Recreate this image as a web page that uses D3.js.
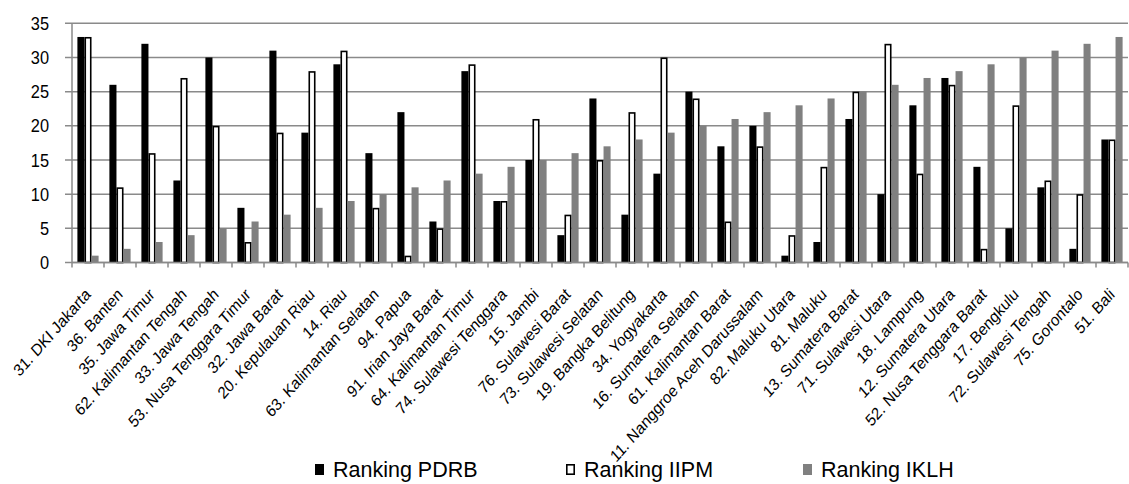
<!DOCTYPE html>
<html>
<head>
<meta charset="utf-8">
<script src="https://cdn.jsdelivr.net/npm/d3@7"></script>
<style>
  html, body { margin: 0; padding: 0; background: #fff; }
  svg { display: block; font-family: "Liberation Sans", Arial, sans-serif; }
</style>
</head>
<body>
<svg id="chart" width="1129" height="484"></svg>
<script>
// Provinces, ordered by environmental quality (IKLH) ranking
const provinces = [
  "31. DKI Jakarta", "36. Banten", "35. Jawa Timur", "62. Kalimantan Tengah",
  "33. Jawa Tengah", "53. Nusa Tenggara Timur", "32. Jawa Barat", "20. Kepulauan Riau",
  "14. Riau", "63. Kalimantan Selatan", "94. Papua", "91. Irian Jaya Barat",
  "64. Kalimantan Timur", "74. Sulawesi Tenggara", "15. Jambi", "76. Sulawesi Barat",
  "73. Sulawesi Selatan", "19. Bangka Belitung", "34. Yogyakarta", "16. Sumatera Selatan",
  "61. Kalimantan Barat", "11. Nanggroe Aceh Darussalam", "82. Maluku Utara", "81. Maluku",
  "13. Sumatera Barat", "71. Sulawesi Utara", "18. Lampung", "12. Sumatera Utara",
  "52. Nusa Tenggara Barat", "17. Bengkulu", "72. Sulawesi Tengah", "75. Gorontalo",
  "51. Bali"
];

const rankPDRB = [33, 26, 32, 12, 30, 8, 31, 19, 29, 16, 22, 6, 28, 9, 15, 4, 24,
                  7, 13, 25, 17, 20, 1, 3, 21, 10, 23, 27, 14, 5, 11, 2, 18];
const rankIIPM = [33, 11, 16, 27, 20, 3, 19, 28, 31, 8, 1, 5, 29, 9, 21, 7, 15,
                  22, 30, 24, 6, 17, 4, 14, 25, 32, 13, 26, 2, 23, 12, 10, 18];
const rankIKLH = [1, 2, 3, 4, 5, 6, 7, 8, 9, 10, 11, 12, 13, 14, 15, 16, 17,
                  18, 19, 20, 21, 22, 23, 24, 25, 26, 27, 28, 29, 30, 31, 32, 33];

const seriesNames = ["Ranking PDRB", "Ranking IIPM", "Ranking IKLH"];
const yTicks = [0, 5, 10, 15, 20, 25, 30, 35];

const seriesValues = [rankPDRB, rankIIPM, rankIKLH];
const seriesStyle = [
  { fill: "#000000", stroke: "none", sw: 0 },
  { fill: "#ffffff", stroke: "#000000", sw: 1.6 },
  { fill: "#808080", stroke: "none", sw: 0 }
];

const svg = d3.select("#chart");
const plotLeft = 72, plotRight = 1128, plotTop = 23.3, plotBottom = 262.5;
const gridColor = "#8a8a8a";

const x = d3.scaleBand().domain(provinces).range([plotLeft, plotRight]).paddingInner(0).paddingOuter(0);
const x1 = d3.scaleBand().domain(seriesNames).range([5.4, x.bandwidth() - 5.4]).padding(0);
const y = d3.scaleLinear().domain([0, 35]).range([plotBottom, plotTop]);

// horizontal gridlines with short ticks to the left of the axis
svg.append("g").selectAll("line").data(yTicks).join("line")
  .attr("x1", plotLeft - 7).attr("x2", plotRight)
  .attr("y1", d => y(d)).attr("y2", d => y(d))
  .attr("stroke", gridColor).attr("stroke-width", 1.5);

// y tick labels (slightly condensed glyphs)
svg.append("g").selectAll("text").data(yTicks).join("text")
  .attr("transform", d => `translate(49,${y(d) + 6.6}) scale(0.88,1)`)
  .attr("text-anchor", "end")
  .attr("font-size", 18.6).attr("fill", "#000")
  .text(d => d);

// vertical axis line
svg.append("line")
  .attr("x1", plotLeft).attr("x2", plotLeft).attr("y1", plotTop).attr("y2", plotBottom)
  .attr("stroke", gridColor).attr("stroke-width", 1.5);

// bars
const groups = svg.append("g").selectAll("g").data(provinces).join("g")
  .attr("transform", d => `translate(${x(d)},0)`);
groups.selectAll("rect")
  .data((d, i) => seriesNames.map((s, k) => ({ s, k, v: seriesValues[k][i] })))
  .join("rect")
  .attr("x", d => x1(d.s) + (d.k === 1 ? 0.8 : 0))
  .attr("width", d => x1.bandwidth() - (d.k === 1 ? 1.6 : 0))
  .attr("y", d => y(d.v) + (d.k === 1 ? 0.8 : 0))
  .attr("height", d => plotBottom - y(d.v) - (d.k === 1 ? 0.8 : 0))
  .attr("fill", d => seriesStyle[d.k].fill)
  .attr("stroke", d => seriesStyle[d.k].stroke)
  .attr("stroke-width", d => seriesStyle[d.k].sw);

// x axis line and category boundary ticks
svg.append("line")
  .attr("x1", plotLeft).attr("x2", plotRight).attr("y1", plotBottom).attr("y2", plotBottom)
  .attr("stroke", gridColor).attr("stroke-width", 1.5);
const boundaries = provinces.map(p => x(p)).concat([plotRight]);
svg.append("g").selectAll("line").data(boundaries).join("line")
  .attr("x1", d => d).attr("x2", d => d)
  .attr("y1", plotBottom).attr("y2", plotBottom + 5)
  .attr("stroke", gridColor).attr("stroke-width", 1.5);

// rotated category labels (condensed horizontally)
svg.append("g").selectAll("text").data(provinces).join("text")
  .attr("transform", d => `translate(${x(d) + x.bandwidth() / 2 + 3.5},${plotBottom + 33}) scale(0.88,1) rotate(-45)`)
  .attr("text-anchor", "end")
  .attr("font-size", 16.8).attr("fill", "#000")
  .text(d => d);

// legend
const legendX = [315, 566, 803];
const legend = svg.append("g").selectAll("g").data(seriesNames).join("g")
  .attr("transform", (d, i) => `translate(${legendX[i]},464)`);
legend.append("rect")
  .attr("x", (d, i) => i === 1 ? 0.8 : 0).attr("y", (d, i) => i === 1 ? 0.8 : 0)
  .attr("width", (d, i) => i === 1 ? 7.4 : 9).attr("height", (d, i) => i === 1 ? 9.4 : 11)
  .attr("fill", (d, i) => seriesStyle[i].fill)
  .attr("stroke", (d, i) => seriesStyle[i].stroke)
  .attr("stroke-width", (d, i) => seriesStyle[i].sw);
legend.append("text")
  .attr("x", 18).attr("y", 12.5)
  .attr("font-size", 21.5).attr("fill", "#000")
  .text(d => d);
</script>
</body>
</html>
